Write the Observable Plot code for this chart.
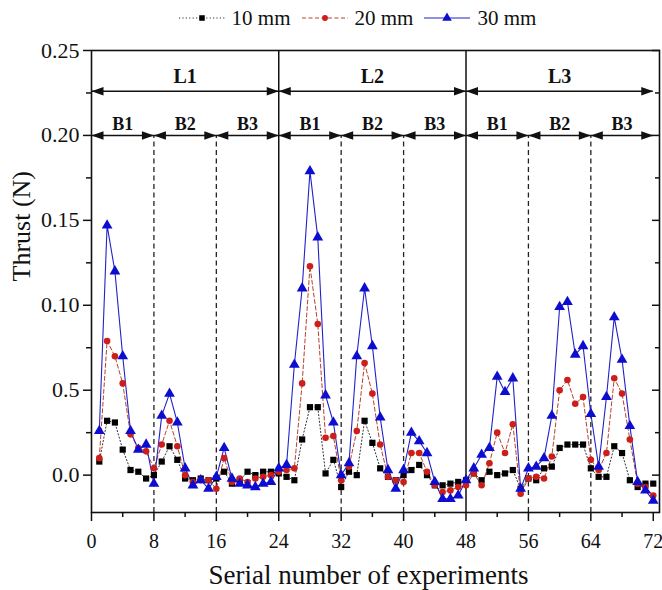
<!DOCTYPE html>
<html>
<head>
<meta charset="utf-8">
<script src="https://cdn.jsdelivr.net/npm/d3@7"></script>
<script src="https://cdn.jsdelivr.net/npm/@observablehq/plot@0.6"></script>
<style>
  html, body { margin: 0; padding: 0; background: #fff; }
  body { width: 662px; height: 590px; overflow: hidden; font-family: "Liberation Serif", "Times New Roman", serif; }
  #legend { height: 36px; display: flex; align-items: center; justify-content: center; font-size: 21px; color: #111; padding-left: 58px; box-sizing: border-box; }
  #legend .item { display: flex; align-items: center; margin: 0 2px; }
  #legend svg { display: block; margin-right: 6px; }
</style>
</head>
<body>
<div id="legend"></div>
<div id="chart"></div>
<script>
// ---- data ----
const seriesNames = ["10 mm", "20 mm", "30 mm"];
const experiments = d3.range(1, 73);
const thrust10 = [
  0.008,0.032,0.031,0.015,0.003,0.002,-0.002,0.000, 0.008,0.017,0.009,-0.002,-0.003,-0.002,-0.003,-0.002, 0.002,-0.005,-0.003,0.002,0.000,0.002,0.002,0.001,
  -0.001,-0.003,0.021,0.040,0.040,0.001,0.009,-0.007, 0.002,0.000,0.032,0.019,0.004,-0.001,-0.003,0.000, 0.003,0.006,0.000,-0.006,-0.006,-0.005,-0.004,-0.003,
  0.001,-0.003,0.002,0.000,0.001,0.003,-0.008,-0.002, -0.003,0.004,0.005,0.016,0.018,0.018,0.018,0.004, -0.001,-0.001,0.017,0.013,-0.003,-0.007,-0.005,-0.005
];
const thrust20 = [
  0.010,0.079,0.070,0.054,0.024,0.016,0.014,0.004, 0.018,0.032,0.017,0.000,-0.004,-0.003,-0.003,-0.008, 0.010,-0.004,-0.002,-0.004,-0.002,-0.001,0.000,0.002,
  0.003,0.004,0.054,0.123,0.089,0.022,0.023,-0.003, 0.005,0.026,0.066,0.048,0.018,-0.001,-0.003,-0.004, 0.013,0.013,0.002,-0.006,-0.010,-0.009,-0.007,-0.006,
  0.001,-0.006,0.007,0.025,0.013,0.030,-0.011,-0.002, -0.001,-0.002,0.011,0.050,0.056,0.042,0.046,0.009, 0.003,0.013,0.057,0.048,0.021,-0.005,-0.007,-0.012
];
const thrust30 = [
  0.026,0.147,0.120,0.070,0.026,0.015,0.018,-0.005, 0.035,0.048,0.031,0.004,-0.006,-0.003,-0.008,-0.001, 0.016,-0.002,-0.005,-0.006,-0.007,-0.005,-0.004,0.004,
  0.006,0.065,0.110,0.179,0.140,0.047,0.031,0.000, 0.007,0.070,0.110,0.076,0.034,0.003,-0.008,0.003, 0.025,0.020,0.013,-0.004,-0.014,-0.014,-0.012,-0.003,
  0.004,0.012,0.016,0.058,0.049,0.057,-0.008,0.004, 0.005,0.010,0.035,0.099,0.102,0.071,0.076,0.036, 0.005,0.046,0.093,0.068,0.029,-0.004,-0.009,-0.015
];
const levelGroups = [{label: "L1", x1: 0, x2: 24}, {label: "L2", x1: 24, x2: 48}, {label: "L3", x1: 48, x2: 72}];
const blockGroups = [
  {label: "B1", x1: 0, x2: 8}, {label: "B2", x1: 8, x2: 16}, {label: "B3", x1: 16, x2: 24},
  {label: "B1", x1: 24, x2: 32}, {label: "B2", x1: 32, x2: 40}, {label: "B3", x1: 40, x2: 48},
  {label: "B1", x1: 48, x2: 56}, {label: "B2", x1: 56, x2: 64}, {label: "B3", x1: 64, x2: 72}
];
const levelDividers = [24, 48];
const blockDividers = [8, 16, 32, 40, 56, 64];
const xMajorTicks = [0, 8, 16, 24, 32, 40, 48, 56, 64, 72];
const xMinorTicks = [4, 12, 20, 28, 36, 44, 52, 60, 68];
const yMajorTicks = [0, 0.05, 0.10, 0.15, 0.20, 0.25];
const yTickLabels = ["0.0", "0.5", "0.10", "0.15", "0.20", "0.25"];
const yMinorTicks = [0.025, 0.075, 0.125, 0.175, 0.225];
const xTitle = "Serial number of experiments";
const yTitle = "Thrust (N)";

// ---- styles ----
const FONT = "'Liberation Serif', 'Times New Roman', serif";
const styles = [
  {line: "#333", dash: "1.2,2.2", width: 1, fill: "#000", symbol: "square", r: 3.5},
  {line: "#b8412e", dash: "4,2.5", width: 1, fill: "#cc1f1a", symbol: "circle", r: 3.3},
  {line: "#2222c8", dash: null, width: 1.1, fill: "#0d0dd0", symbol: "triangle", r: 4.0}
];
const seriesValues = [thrust10, thrust20, thrust30];
const rows = seriesValues.map(vals => experiments.map((x, i) => ({x, y: vals[i]})));

const yDomain = [-0.022, 0.25];
const levelArrowY = 0.226, levelLabelY = 0.2348;
const blockArrowY = 0.200, blockLabelY = 0.2068;

const leftHead = {draw(ctx) { ctx.moveTo(0, 0); ctx.lineTo(12, -4.2); ctx.lineTo(12, 4.2); ctx.closePath(); }};
const rightHead = {draw(ctx) { ctx.moveTo(0, 0); ctx.lineTo(-12, -4.2); ctx.lineTo(-12, 4.2); ctx.closePath(); }};

function arrowMarks(groups, yv) {
  return [
    Plot.ruleY(groups, {y: () => yv, x1: "x1", x2: d => d.x2, stroke: "#111", strokeWidth: 1.6}),
    Plot.dot(groups, {x: "x1", y: () => yv, symbol: leftHead, r: 5, fill: "#111", stroke: "none"}),
    Plot.dot(groups, {x: "x2", y: () => yv, symbol: rightHead, r: 5, fill: "#111", stroke: "none"})
  ];
}

const chart = Plot.plot({
  width: 662,
  height: 554,
  marginLeft: 91,
  marginRight: 3,
  marginTop: 14,
  marginBottom: 78,
  style: {fontFamily: FONT, background: "#fff", color: "#111", overflow: "visible"},
  x: {domain: [0, 72.8], label: null},
  y: {domain: yDomain, label: null},
  marks: [
    Plot.ruleX(blockDividers, {x: d => d, y1: yDomain[0], y2: blockArrowY, stroke: "#222", strokeWidth: 1.3, strokeDasharray: "5,3.5"}),
    Plot.ruleX(levelDividers, {x: d => d, y1: yDomain[0], y2: yDomain[1], stroke: "#111", strokeWidth: 1.5}),
    ...arrowMarks(levelGroups, levelArrowY),
    ...arrowMarks(blockGroups, blockArrowY),
    Plot.text(levelGroups, {x: d => (d.x1 + d.x2) / 2, y: () => levelLabelY, text: "label", fontSize: 20, fontWeight: "bold", fill: "#111"}),
    Plot.text(blockGroups, {x: d => (d.x1 + d.x2) / 2, y: () => blockLabelY, text: "label", fontSize: 18, fontWeight: "bold", fill: "#111"}),
    ...rows.map((r, i) => Plot.line(r, {x: "x", y: "y", stroke: styles[i].line, strokeWidth: styles[i].width, strokeDasharray: styles[i].dash})),
    ...rows.map((r, i) => Plot.dot(r, {x: "x", y: "y", symbol: styles[i].symbol, r: styles[i].r, fill: styles[i].fill, stroke: "none"})),
    Plot.frame({stroke: "#111", strokeWidth: 1.6}),
    Plot.axisX(xMajorTicks, {tickSize: 9, tickPadding: 12, fontSize: 20, strokeWidth: 1.5, tickFormat: d => String(d), fill: "#111"}),
    Plot.axisX(xMinorTicks, {tickSize: 5, strokeWidth: 1.5, tickFormat: () => ""}),
    Plot.axisY(yMajorTicks, {tickSize: 8, tickPadding: 4, fontSize: 22, strokeWidth: 1.5, tickFormat: d => yTickLabels[yMajorTicks.indexOf(d)], fill: "#111"}),
    Plot.axisY(yMinorTicks, {tickSize: 5, strokeWidth: 1.5, tickFormat: () => ""}),
    Plot.axisY(yMajorTicks, {anchor: "right", tickSize: 8, dx: -8, strokeWidth: 1.5, tickFormat: () => ""}),
    Plot.axisY(yMinorTicks, {anchor: "right", tickSize: 5, dx: -5, strokeWidth: 1.5, tickFormat: () => ""}),
    Plot.text([yTitle], {frameAnchor: "left", text: d => d, rotate: -90, dx: -70, fontSize: 26, fill: "#111"}),
    Plot.text([xTitle], {frameAnchor: "bottom", text: d => d, dx: -7, dy: 71, lineAnchor: "bottom", fontSize: 27, fill: "#111"})
  ]
});
document.getElementById("chart").appendChild(chart);

// ---- legend ----
const legend = d3.select("#legend");
seriesNames.forEach((name, i) => {
  const st = styles[i];
  const item = legend.append("div").attr("class", "item");
  const svg = item.append("svg").attr("width", 48).attr("height", 20);
  svg.append("line").attr("x1", 1).attr("x2", 47).attr("y1", 10).attr("y2", 10)
    .attr("stroke", st.line).attr("stroke-width", st.width).attr("stroke-dasharray", st.dash);
  const sym = st.symbol === "square" ? d3.symbolSquare : st.symbol === "circle" ? d3.symbolCircle : d3.symbolTriangle;
  svg.append("path").attr("transform", "translate(24,10)")
    .attr("d", d3.symbol(sym, Math.PI * st.r * st.r * 0.8)()).attr("fill", st.fill);
  item.append("span").text(name).style("margin-right", "6px");
});
</script>
</body>
</html>
